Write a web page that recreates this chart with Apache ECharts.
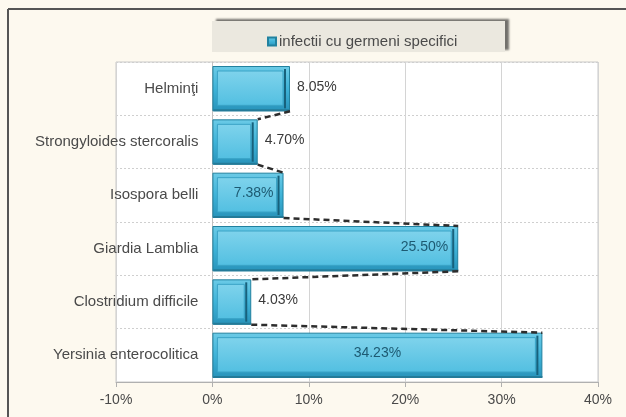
<!DOCTYPE html>
<html>
<head>
<meta charset="utf-8">
<script src="https://cdn.jsdelivr.net/npm/echarts@6/dist/echarts.min.js"></script>
<style>html,body{margin:0;padding:0;background:#fdf9ef;}#c{width:626px;height:417px;}</style>
</head>
<body>
<div id="c"></div>
<script>
const seriesName = 'infectii cu germeni specifici';
const categories = ['Helminţi', 'Strongyloides stercoralis', 'Isospora belli', 'Giardia Lamblia', 'Clostridium difficile', 'Yersinia enterocolitica'];
const values = [8.05, 4.70, 7.38, 25.50, 4.03, 34.23];
const xMin = -10, xMax = 40, xStep = 10;

const labelPlacement = ['right', 'right', 'insideRight', 'insideRight', 'right', 'inside'];
const FONT = '"Liberation Sans", Arial, sans-serif';
const BAR_RATIO = 0.85;
const GRID = { left: 116, top: 62, width: 482, height: 320 };
// place the category axis at the value 0 of the x axis
const yAxisOffset = -GRID.width * (0 - xMin) / (xMax - xMin);

const chart = echarts.init(document.getElementById('c'));

function renderOverlay(params, api) {
  const i = params.dataIndex;
  const v = api.value(0);
  const c = api.value(1);
  const p0 = api.coord([0, c]);
  const p1 = api.coord([v, c]);
  const band = api.size([0, 1])[1];
  const h = band * BAR_RATIO;
  const top = p0[1] - h / 2, bottom = p0[1] + h / 2;
  const x0 = p0[0], x1 = p1[0];
  const children = [];
  children.push({
    type: 'rect',
    shape: { x: x0 + 5, y: top + 5, width: Math.max(0, x1 - x0 - 12), height: h - 11 },
    style: {
      fill: new echarts.graphic.LinearGradient(0, 0, 0, 1, [
        { offset: 0, color: '#7fd3ec' }, { offset: 1, color: '#52bfe1' }
      ]),
      stroke: '#3aa3c6', lineWidth: 1
    }
  });
  children.push({ type: 'line', shape: { x1: x1 - 5, y1: top + 3, x2: x1 - 5, y2: bottom - 3 }, style: { stroke: '#17617c', lineWidth: 2 } });
  children.push({ type: 'line', shape: { x1: x0 + 1, y1: bottom - 1, x2: x1, y2: bottom - 1 }, style: { stroke: '#247b99', lineWidth: 2 } });
  if (i < values.length - 1) {
    const nb = api.coord([values[i + 1], c + 1]);
    children.push({ type: 'line', shape: { x1: x1, y1: bottom, x2: nb[0], y2: nb[1] - h / 2 }, style: { stroke: '#2d2d2d', lineWidth: 2.5, lineDash: [6, 4] } });
  }
  const pl = labelPlacement[i];
  let tx, al, col;
  if (pl === 'right') { tx = x1 + 7; al = 'left'; col = '#3a3a3a'; }
  else if (pl === 'insideRight') { tx = x1 - 10; al = 'right'; col = '#1d5a72'; }
  else { tx = (x0 + x1) / 2; al = 'center'; col = '#1d5a72'; }
  children.push({
    type: 'text', x: tx, y: p0[1] - 2,
    style: { text: v.toFixed(2) + '%', align: al, verticalAlign: 'middle', fill: col, fontSize: 14, fontFamily: FONT }
  });
  return { type: 'group', children };
}

const option = {
  backgroundColor: '#fdf9ef',
  animation: false,
  graphic: [
    { type: 'line', z: 100, shape: { x1: 8, y1: 9, x2: 626, y2: 9 }, style: { stroke: '#555', lineWidth: 2 } },
    { type: 'line', z: 100, shape: { x1: 8, y1: 9, x2: 8, y2: 417 }, style: { stroke: '#555', lineWidth: 2 } },
    { type: 'rect', z: 0, shape: { x: 212, y: 21, width: 293, height: 31 },
      style: { fill: '#ebe8df', shadowColor: 'rgba(0,0,0,0.55)', shadowOffsetX: 4, shadowOffsetY: -2, shadowBlur: 2 } }
  ],
  legend: {
    data: [seriesName], left: 262, top: 29, icon: 'rect', itemWidth: 8, itemHeight: 8, itemGap: 4,
    selectedMode: false,
    textStyle: { fontSize: 15, color: '#4a4a4a', fontFamily: FONT, padding: [0, 0, 0, -2] }
  },
  grid: Object.assign({ show: true, backgroundColor: '#fff', borderColor: '#c8c8c8', borderWidth: 1, containLabel: false, outerBoundsMode: 'none' }, GRID),
  xAxis: {
    type: 'value', min: xMin, max: xMax, interval: xStep,
    axisLabel: { formatter: '{value}%', fontSize: 14, color: '#4a4a4a', fontFamily: FONT, margin: 11 },
    axisLine: { show: true, lineStyle: { color: '#b0b0b0' } },
    axisTick: { show: true, length: 5, lineStyle: { color: '#b0b0b0' } },
    splitLine: { show: true, lineStyle: { color: '#d4d4d4' } }
  },
  yAxis: {
    type: 'category', inverse: true, data: categories, offset: yAxisOffset,
    axisLine: { show: true, onZero: false, lineStyle: { color: '#c0c0c0' } },
    axisTick: { show: false },
    axisLabel: { fontSize: 15, color: '#4a4a4a', fontFamily: FONT, margin: 14 },
    splitLine: { show: true, lineStyle: { color: '#cfcfcf', type: [2, 2] } }
  },
  series: [
    {
      name: seriesName, type: 'bar', data: values, barCategoryGap: '15%', z: 2,
      itemStyle: {
        color: new echarts.graphic.LinearGradient(0, 0, 0, 1, [
          { offset: 0, color: '#6ccbe7' }, { offset: 0.5, color: '#3fb3d8' }, { offset: 1, color: '#2893ba' }
        ]),
        borderColor: '#21819f', borderWidth: 1
      }
    },
    {
      name: 'overlay', type: 'custom', z: 3, silent: true,
      data: values.map((v, i) => [v, i]),
      encode: { x: 0, y: 1 },
      renderItem: renderOverlay
    }
  ]
};
chart.setOption(option);
</script>
</body>
</html>
